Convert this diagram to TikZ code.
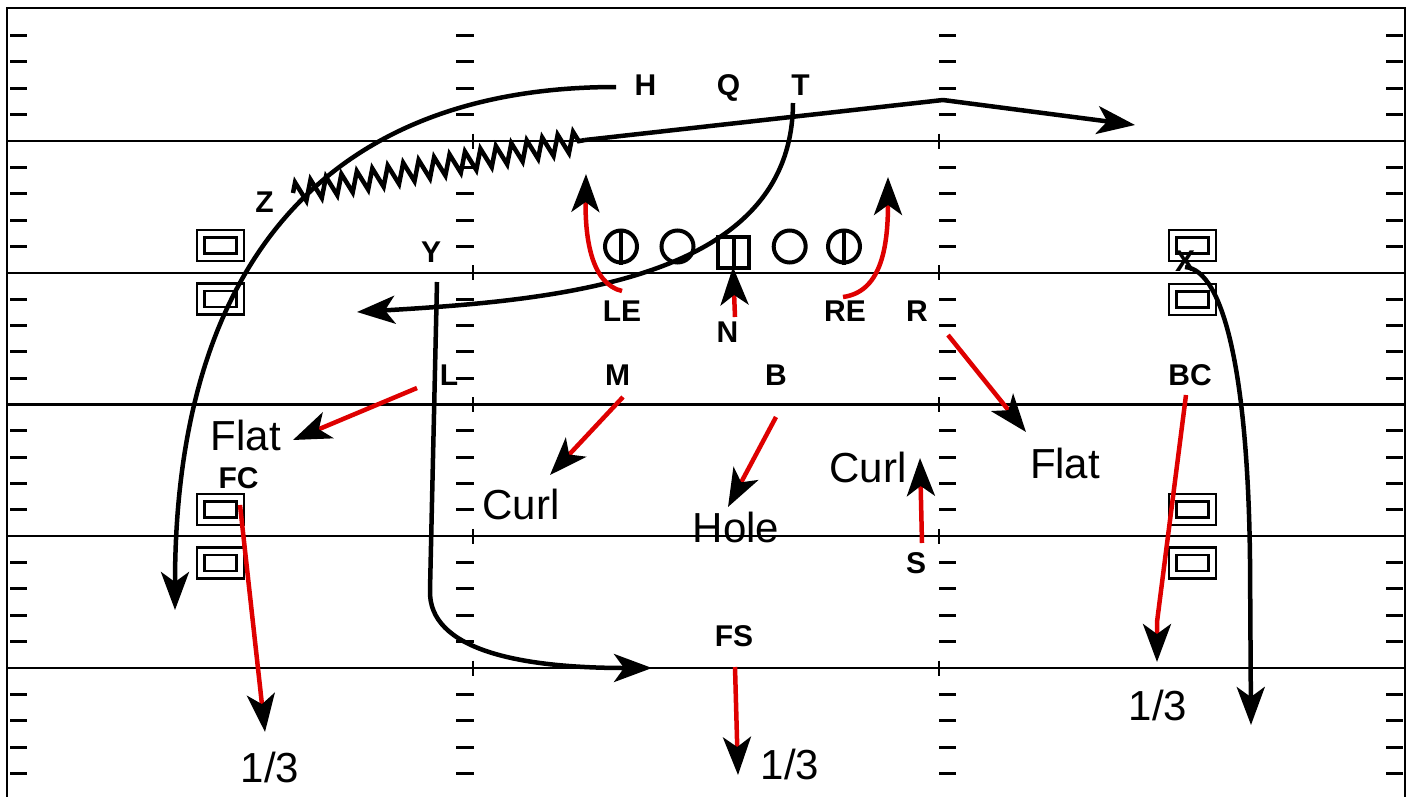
\documentclass[tikz,border=0pt]{standalone}
\usepackage{fontspec}
\setmainfont{Liberation Sans}
\usetikzlibrary{arrows.meta,decorations.pathmorphing}
\definecolor{rt}{RGB}{222,0,0}
\begin{document}
\begin{tikzpicture}[x=1pt,y=-1pt,
  yard/.style={line width=2.2pt},
  hashmark/.style={line width=3pt},
  hashcross/.style={line width=2.2pt},
  border/.style={line width=2.8pt},
  man/.style={draw, line width=4pt, inner sep=0pt, minimum size=32pt},
  rbox/.style={draw, rectangle, line width=2.4pt, double, double distance=5pt, minimum width=39.5pt, minimum height=23.5pt, inner sep=0pt},
  lbl/.style={font=\fontsize{30}{36}\selectfont\bfseries, anchor=base, inner sep=0pt},
  zone/.style={font=\fontsize{42}{50}\selectfont, anchor=base, inner sep=0pt},
  route/.style={line width=4.5pt, -{Stealth[length=38pt,width=28pt,inset=10pt,color=black]}},
  rroute/.style={route, draw=rt},
  zz/.style={line width=4.5pt, line join=miter, decorate, decoration={zigzag, segment length=15.7pt, amplitude=10pt}}
]
\useasboundingbox (0,0) rectangle (1411,796);
% field
\foreach \yy in {141,272.75,404.5,536.25,668}{
  \draw[yard] (7,\yy) -- (1405,\yy);
  \draw[hashcross] (473,\yy-7.5) -- (473,\yy+7.5);
  \draw[hashcross] (939,\yy-7.5) -- (939,\yy+7.5);
}
\foreach \k in {-4,...,24}{
  \pgfmathtruncatemacro\m{mod(\k+5,5)}
  \pgfmathsetmacro\yy{141+26.35*\k}
  \ifnum\m=0\relax\else
    \draw[hashmark] (10,\yy) -- (27,\yy) (456,\yy) -- (474,\yy) (939,\yy) -- (956,\yy) (1386,\yy) -- (1403,\yy);
  \fi
}
\draw[border] (7,810) -- (7,8) -- (1405,8) -- (1405,810);
% receivers' boxes
\node[rbox] (bx1) at (220.5,245.5) {};
\node[rbox] (bx2) at (220.5,299) {};
\node[rbox] (bx3) at (220.5,509.5) {};
\node[rbox] (bx4) at (220.5,563) {};
\node[rbox] (bx5) at (1192.5,245.5) {};
\node[rbox] (bx6) at (1192.5,299.5) {};
\node[rbox] (bx7) at (1192.5,509.5) {};
\node[rbox] (bx8) at (1192.5,563) {};
% offensive line
\node[man, circle] (ol1) at (621,246.5) {};
\node[man, circle] (ol2) at (677.5,246.5) {};
\node[man, rectangle, minimum size=31.5pt] (ctr) at (733.7,252.5) {};
\node[man, circle] (ol4) at (789.7,246.5) {};
\node[man, circle] (ol5) at (844,246.5) {};
\draw[line width=4pt] (ol1.north) -- (ol1.south) (ol5.north) -- (ol5.south) (ctr.north) -- (ctr.south);
% labels
\node[lbl] (H) at (645.5,95) {H};
\node[lbl] (Q) at (728.5,95) {Q};
\node[lbl] (T) at (800.5,95) {T};
\node[lbl] (Z) at (264.5,212) {Z};
\node[lbl] (Y) at (431,262) {Y};
\node[lbl] (X) at (1185,271) {X};
\node[lbl] (LE) at (622,321) {LE};
\node[lbl] (N) at (727.5,342) {N};
\node[lbl] (RE) at (845,321) {RE};
\node[lbl] (R) at (917,321) {R};
\node[lbl] (L) at (449,385) {L};
\node[lbl] (M) at (617.5,385) {M};
\node[lbl] (B) at (776,385) {B};
\node[lbl] (BC) at (1190,385) {BC};
\node[lbl] (FC) at (238.5,488) {FC};
\node[lbl] (S) at (916,573) {S};
\node[lbl] (FS) at (734,646) {FS};
\node[zone] (flatL) at (246,450) {Flat};
\node[zone] (curlM) at (521,519) {Curl};
\node[zone] (hole) at (736,542) {Hole};
\node[zone] (curlS) at (868,482) {Curl};
\node[zone] (flatR) at (1065,478) {Flat};
\node[zone] (thirdL) at (270,782) {1/3};
\node[zone] (thirdC) at (790,779) {1/3};
\node[zone] (thirdR) at (1158,720) {1/3};
% route coordinates
\coordinate (hS) at (616,87);   \coordinate (hE) at (175,610);
\coordinate (tS) at (793,103);  \coordinate (tE) at (357,312);
\coordinate (yS) at (437,282);  \coordinate (yK) at (430,590); \coordinate (yE) at (652,668);
\coordinate (xS) at (1185,267); \coordinate (xK) at (1250,560); \coordinate (xE) at (1251,725);
\coordinate (zS) at (293,193);  \coordinate (zK) at (585,140); \coordinate (zB) at (943,100); \coordinate (zE) at (1135,125);
% offense routes
\draw[route] (hS) .. controls (330,87) and (175,260) .. (hE);
\draw[route] (tS) .. controls (792,280) and (560,300) .. (tE);
\draw[route] (yS) -- (yK) .. controls (428,650) and (520,668) .. (yE);
\draw[route] (xS) .. controls (1225,270) and (1248,380) .. (xK) -- (xE);
\draw[zz] (zS) -- (zK);
\draw[route, line join=round] (zK) -- (zB) -- (zE);
% defense coordinates
\coordinate (leS) at (622,291); \coordinate (leE) at (586,174);
\coordinate (reS) at (843,297); \coordinate (reE) at (888,177);
\coordinate (nS) at (735,317);  \coordinate (nE) at (733,267);
\coordinate (lS) at (417,388);  \coordinate (lE) at (293,440);
\coordinate (mS) at (623,397);  \coordinate (mE) at (550,475);
\coordinate (bS) at (776,417);  \coordinate (bE) at (728,507);
\coordinate (sS) at (922,543);  \coordinate (sE) at (920,458);
\coordinate (fsS) at (735,667); \coordinate (fsE) at (738,775);
\coordinate (fcS) at (240,505); \coordinate (fcE) at (265,732);
\coordinate (rS) at (948,335);  \coordinate (rE) at (1026,432);
\coordinate (bcS) at (1186,395); \coordinate (bcK) at (1157,622); \coordinate (bcE) at (1157,662);
% defense routes
\draw[rroute] (leS) .. controls (592,284) and (585,240) .. (leE);
\draw[rroute] (reS) .. controls (880,292) and (888,250) .. (reE);
\draw[rroute] (nS) -- (nE);
\draw[rroute] (lS) -- (lE);
\draw[rroute] (mS) -- (mE);
\draw[rroute] (bS) -- (bE);
\draw[rroute] (sS) -- (sE);
\draw[rroute] (fsS) -- (fsE);
\draw[rroute] (fcS) -- (fcE);
\draw[rroute] (rS) -- (rE);
\draw[rroute] (bcS) -- (bcK) -- (bcE);
\end{tikzpicture}
\end{document}
